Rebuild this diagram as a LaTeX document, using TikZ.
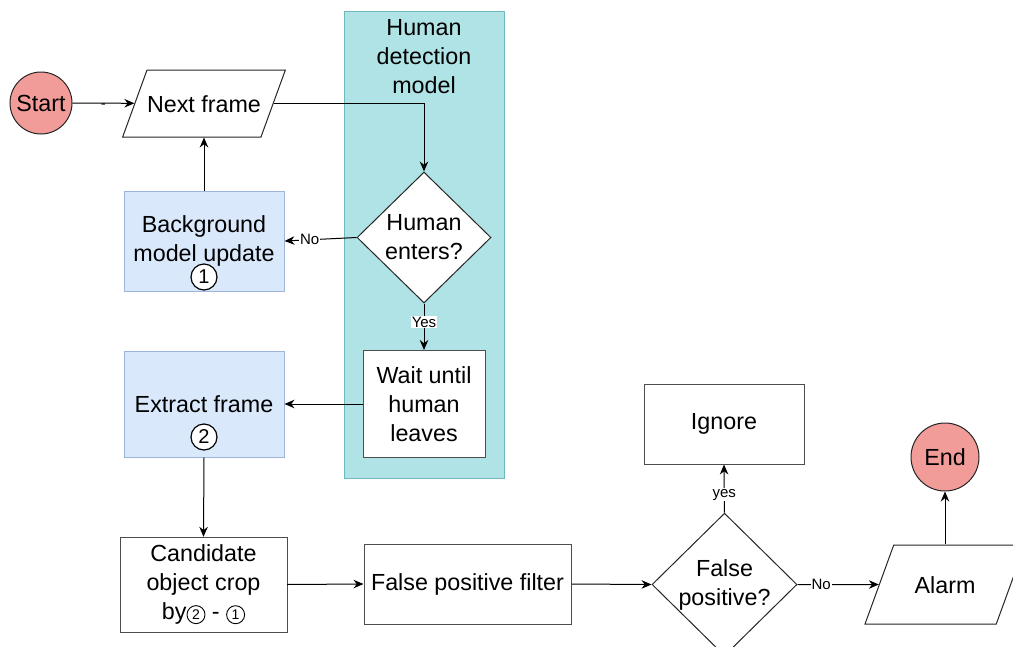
\documentclass[tikz,border=0pt]{standalone}
\usepackage{fontspec}
\setmainfont{Liberation Sans}
\usetikzlibrary{arrows.meta,shapes.geometric}
\definecolor{termred}{HTML}{F19C99}
\definecolor{stagefill}{HTML}{DAE8FC}
\definecolor{stageline}{HTML}{9DB5DB}
\definecolor{poolfill}{HTML}{B0E3E6}
\definecolor{poolline}{HTML}{6FB8BD}
\definecolor{boxline}{HTML}{4D4D4D}
\newcommand{\cnum}[1]{\tikz[baseline=(cn.base)]\node[circle,draw=black,line width=0.9pt,
    inner sep=0pt,minimum size=18pt,font=\fontsize{14}{14}\selectfont] (cn) {#1};}

\begin{document}
\begin{tikzpicture}[x=1pt,y=-1pt,line width=1pt,>={Stealth[length=10pt,width=8.5pt]}]
	\tikzset{every node/.style={font=\fontsize{23.3}{29}\selectfont}}
	\tikzset{terminal/.style={circle,draw=black!85,fill=termred,inner sep=0}}
	\tikzset{io/.style={trapezium,trapezium left angle=70,trapezium right angle=110,
	    trapezium stretches body=true,draw=black!85,fill=white,inner xsep=0,
	    text height=17pt,text depth=0pt,minimum width=160pt}}
	\tikzset{process/.style={rectangle,draw=boxline,fill=white,align=center,inner sep=0}}
	\tikzset{stage/.style={rectangle,draw=stageline,fill=stagefill,align=center,inner sep=0,
	    minimum width=160pt}}
	\tikzset{decision/.style={diamond,draw=black!85,fill=white,align=center,inner sep=0}}
	\tikzset{edgelabel/.style={font=\fontsize{15}{18}\selectfont,fill=white,inner sep=1pt}}
	\tikzset{circnum/.style={circle,draw=black,line width=1.2pt,fill=white,inner sep=0,
	    minimum size=26pt,font=\fontsize{20}{20}\selectfont}}

	\useasboundingbox (0,0) rectangle (1013,646);
	\clip (0,0) rectangle (1013,646);

	% container
	\node[draw=poolline,fill=poolfill,minimum width=160pt,minimum height=467pt,inner sep=0] (pool) at (424,244.5) {};
	\node[align=center,inner sep=0] (pooltitle) at (424,57) {Human\\detection\\model};

	% vertices
	\node[terminal,minimum size=62pt] (start) at (41,103) {Start};
	\node[io,inner ysep=25pt] (next) at (204,103.5) {Next frame};
	\node[decision,minimum width=134pt,minimum height=131pt] (enters) at (424,237.5) {Human\\enters?};
	\node[stage,minimum height=100pt] (bgupdate) at (204,241) {Background\\model update};
	\node[circnum] (num1) at (204,277) {1};
	\node[process,minimum width=122pt,minimum height=107pt] (wait) at (424,404) {Wait until\\human\\leaves};
	\node[stage,minimum height=106pt] (extract) at (204,404) {Extract frame};
	\node[circnum] (num2) at (204,437) {2};
	\node[process,minimum width=167pt,minimum height=95pt] (candidate) at (203.5,584.5)
	    {Candidate\\object crop\\by\cnum{2} - \cnum{1}};
	\node[process,minimum width=207pt,minimum height=80pt] (filter) at (467.5,584) {False positive filter};
	\node[decision,minimum width=145pt,minimum height=133pt] (fpos) at (724.5,584.5) {False\\positive?};
	\node[process,minimum width=160pt,minimum height=80pt] (ignore) at (724,424) {Ignore};
	\node[io,inner ysep=31pt] (alarm) at (945,584.5) {Alarm};
	\node[terminal,minimum size=68pt] (end) at (945,457) {End};

	% edges
	\draw[->] (start) -- node[edgelabel,fill=none,inner sep=0,yshift=-3pt] {-} (next);
	\draw[->] (next.east) -| (enters.north);
	\draw[->] (enters.west) -- node[edgelabel,pos=0.65] {No} (bgupdate.east);
	\draw[->] (bgupdate.north) -- (next);
	\draw[->] (enters.south) -- node[edgelabel,pos=0.4] {Yes} (wait.north);
	\draw[->] (wait.west) -- (extract.east);
	\draw[->] (extract.south) -- (candidate.north);
	\draw[->] (candidate.east) -- (filter.west);
	\draw[->] (filter.east) -- (fpos.west);
	\draw[->] (fpos.north) -- node[edgelabel,pos=0.37] {yes} (ignore.south);
	\draw[->] (fpos.east) -- node[edgelabel,pos=0.29] {No} (alarm);
	\draw[->] (alarm) -- (end);
\end{tikzpicture}
\end{document}
